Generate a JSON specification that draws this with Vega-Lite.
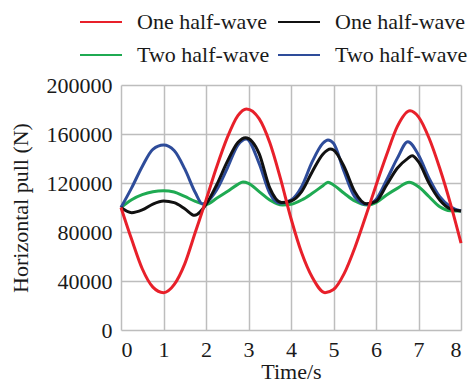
{
  "$schema": "https://vega.github.io/schema/vega-lite/v6.json",
  "width": 340,
  "height": 245,
  "autosize": {"type": "none"},
  "padding": {"left": 121, "top": 85, "right": 9, "bottom": 52},
  "background": "white",
  "config": {
    "view": {"stroke": null},
    "font": "Liberation Serif",
    "axis": {
      "labelFont": "Liberation Serif",
      "titleFont": "Liberation Serif",
      "labelFontSize": 22,
      "titleFontSize": 22,
      "titleFontWeight": "normal",
      "labelColor": "#1a1a1a",
      "titleColor": "#1a1a1a",
      "ticks": false,
      "domain": false,
      "grid": true,
      "gridColor": "#bdbdbd",
      "gridWidth": 1.5,
      "gridOpacity": 1
    }
  },
  "data": {
    "values": [
      {"t": 0, "F": 100000, "series": "Two half-wave (1)"},
      {"t": 0.25, "F": 106400, "series": "Two half-wave (1)"},
      {"t": 0.5, "F": 110500, "series": "Two half-wave (1)"},
      {"t": 0.75, "F": 112900, "series": "Two half-wave (1)"},
      {"t": 1.0, "F": 113700, "series": "Two half-wave (1)"},
      {"t": 1.25, "F": 112600, "series": "Two half-wave (1)"},
      {"t": 1.5, "F": 109000, "series": "Two half-wave (1)"},
      {"t": 1.75, "F": 105000, "series": "Two half-wave (1)"},
      {"t": 2.0, "F": 102500, "series": "Two half-wave (1)"},
      {"t": 2.25, "F": 107500, "series": "Two half-wave (1)"},
      {"t": 2.5, "F": 113000, "series": "Two half-wave (1)"},
      {"t": 2.75, "F": 118900, "series": "Two half-wave (1)"},
      {"t": 2.87, "F": 120800, "series": "Two half-wave (1)"},
      {"t": 3.0, "F": 119700, "series": "Two half-wave (1)"},
      {"t": 3.25, "F": 113000, "series": "Two half-wave (1)"},
      {"t": 3.5, "F": 106100, "series": "Two half-wave (1)"},
      {"t": 3.8, "F": 102000, "series": "Two half-wave (1)"},
      {"t": 4.0, "F": 102600, "series": "Two half-wave (1)"},
      {"t": 4.25, "F": 106100, "series": "Two half-wave (1)"},
      {"t": 4.5, "F": 111600, "series": "Two half-wave (1)"},
      {"t": 4.75, "F": 117800, "series": "Two half-wave (1)"},
      {"t": 4.87, "F": 120700, "series": "Two half-wave (1)"},
      {"t": 5.0, "F": 118400, "series": "Two half-wave (1)"},
      {"t": 5.25, "F": 111600, "series": "Two half-wave (1)"},
      {"t": 5.5, "F": 105300, "series": "Two half-wave (1)"},
      {"t": 5.8, "F": 102000, "series": "Two half-wave (1)"},
      {"t": 6.0, "F": 104000, "series": "Two half-wave (1)"},
      {"t": 6.25, "F": 110200, "series": "Two half-wave (1)"},
      {"t": 6.5, "F": 115600, "series": "Two half-wave (1)"},
      {"t": 6.78, "F": 120600, "series": "Two half-wave (1)"},
      {"t": 7.0, "F": 117000, "series": "Two half-wave (1)"},
      {"t": 7.25, "F": 108800, "series": "Two half-wave (1)"},
      {"t": 7.5, "F": 100700, "series": "Two half-wave (1)"},
      {"t": 7.75, "F": 97400, "series": "Two half-wave (1)"},
      {"t": 8.0, "F": 97100, "series": "Two half-wave (1)"},

      {"t": 0, "F": 100000, "series": "Two half-wave (2)"},
      {"t": 0.25, "F": 116000, "series": "Two half-wave (2)"},
      {"t": 0.5, "F": 133500, "series": "Two half-wave (2)"},
      {"t": 0.75, "F": 147500, "series": "Two half-wave (2)"},
      {"t": 1.0, "F": 151000, "series": "Two half-wave (2)"},
      {"t": 1.25, "F": 146500, "series": "Two half-wave (2)"},
      {"t": 1.5, "F": 131500, "series": "Two half-wave (2)"},
      {"t": 1.75, "F": 112000, "series": "Two half-wave (2)"},
      {"t": 1.92, "F": 102800, "series": "Two half-wave (2)"},
      {"t": 2.0, "F": 104000, "series": "Two half-wave (2)"},
      {"t": 2.25, "F": 114300, "series": "Two half-wave (2)"},
      {"t": 2.5, "F": 132000, "series": "Two half-wave (2)"},
      {"t": 2.75, "F": 151000, "series": "Two half-wave (2)"},
      {"t": 2.95, "F": 156000, "series": "Two half-wave (2)"},
      {"t": 3.25, "F": 136000, "series": "Two half-wave (2)"},
      {"t": 3.5, "F": 111600, "series": "Two half-wave (2)"},
      {"t": 3.75, "F": 103400, "series": "Two half-wave (2)"},
      {"t": 4.0, "F": 106000, "series": "Two half-wave (2)"},
      {"t": 4.25, "F": 117000, "series": "Two half-wave (2)"},
      {"t": 4.5, "F": 137400, "series": "Two half-wave (2)"},
      {"t": 4.75, "F": 152400, "series": "Two half-wave (2)"},
      {"t": 4.87, "F": 155100, "series": "Two half-wave (2)"},
      {"t": 5.0, "F": 152400, "series": "Two half-wave (2)"},
      {"t": 5.25, "F": 129200, "series": "Two half-wave (2)"},
      {"t": 5.5, "F": 108800, "series": "Two half-wave (2)"},
      {"t": 5.78, "F": 102600, "series": "Two half-wave (2)"},
      {"t": 6.0, "F": 106500, "series": "Two half-wave (2)"},
      {"t": 6.25, "F": 122400, "series": "Two half-wave (2)"},
      {"t": 6.5, "F": 140100, "series": "Two half-wave (2)"},
      {"t": 6.75, "F": 153700, "series": "Two half-wave (2)"},
      {"t": 7.0, "F": 142900, "series": "Two half-wave (2)"},
      {"t": 7.25, "F": 123800, "series": "Two half-wave (2)"},
      {"t": 7.5, "F": 108800, "series": "Two half-wave (2)"},
      {"t": 7.75, "F": 100700, "series": "Two half-wave (2)"},
      {"t": 8.0, "F": 97100, "series": "Two half-wave (2)"},

      {"t": 0, "F": 100000, "series": "One half-wave (2)"},
      {"t": 0.25, "F": 95800, "series": "One half-wave (2)"},
      {"t": 0.5, "F": 98000, "series": "One half-wave (2)"},
      {"t": 0.75, "F": 102800, "series": "One half-wave (2)"},
      {"t": 1.0, "F": 105300, "series": "One half-wave (2)"},
      {"t": 1.25, "F": 104000, "series": "One half-wave (2)"},
      {"t": 1.5, "F": 99000, "series": "One half-wave (2)"},
      {"t": 1.73, "F": 93600, "series": "One half-wave (2)"},
      {"t": 2.0, "F": 102500, "series": "One half-wave (2)"},
      {"t": 2.25, "F": 118400, "series": "One half-wave (2)"},
      {"t": 2.5, "F": 137400, "series": "One half-wave (2)"},
      {"t": 2.75, "F": 153000, "series": "One half-wave (2)"},
      {"t": 2.93, "F": 157000, "series": "One half-wave (2)"},
      {"t": 3.25, "F": 144000, "series": "One half-wave (2)"},
      {"t": 3.5, "F": 116000, "series": "One half-wave (2)"},
      {"t": 3.78, "F": 104000, "series": "One half-wave (2)"},
      {"t": 4.0, "F": 105300, "series": "One half-wave (2)"},
      {"t": 4.25, "F": 113000, "series": "One half-wave (2)"},
      {"t": 4.5, "F": 129200, "series": "One half-wave (2)"},
      {"t": 4.75, "F": 143500, "series": "One half-wave (2)"},
      {"t": 4.93, "F": 147700, "series": "One half-wave (2)"},
      {"t": 5.0, "F": 146900, "series": "One half-wave (2)"},
      {"t": 5.25, "F": 133300, "series": "One half-wave (2)"},
      {"t": 5.5, "F": 112900, "series": "One half-wave (2)"},
      {"t": 5.78, "F": 103000, "series": "One half-wave (2)"},
      {"t": 6.0, "F": 105000, "series": "One half-wave (2)"},
      {"t": 6.25, "F": 118400, "series": "One half-wave (2)"},
      {"t": 6.5, "F": 132000, "series": "One half-wave (2)"},
      {"t": 6.75, "F": 140100, "series": "One half-wave (2)"},
      {"t": 6.85, "F": 142300, "series": "One half-wave (2)"},
      {"t": 7.0, "F": 137400, "series": "One half-wave (2)"},
      {"t": 7.25, "F": 119700, "series": "One half-wave (2)"},
      {"t": 7.5, "F": 106100, "series": "One half-wave (2)"},
      {"t": 7.75, "F": 98800, "series": "One half-wave (2)"},
      {"t": 8.0, "F": 97100, "series": "One half-wave (2)"},

      {"t": 0, "F": 100000, "series": "One half-wave (1)"},
      {"t": 0.25, "F": 74000, "series": "One half-wave (1)"},
      {"t": 0.5, "F": 50000, "series": "One half-wave (1)"},
      {"t": 0.75, "F": 35000, "series": "One half-wave (1)"},
      {"t": 1.0, "F": 30500, "series": "One half-wave (1)"},
      {"t": 1.25, "F": 37000, "series": "One half-wave (1)"},
      {"t": 1.5, "F": 54000, "series": "One half-wave (1)"},
      {"t": 1.75, "F": 80000, "series": "One half-wave (1)"},
      {"t": 2.0, "F": 106000, "series": "One half-wave (1)"},
      {"t": 2.25, "F": 133000, "series": "One half-wave (1)"},
      {"t": 2.5, "F": 157000, "series": "One half-wave (1)"},
      {"t": 2.75, "F": 175000, "series": "One half-wave (1)"},
      {"t": 2.95, "F": 180500, "series": "One half-wave (1)"},
      {"t": 3.25, "F": 172500, "series": "One half-wave (1)"},
      {"t": 3.5, "F": 153000, "series": "One half-wave (1)"},
      {"t": 3.75, "F": 124000, "series": "One half-wave (1)"},
      {"t": 4.0, "F": 91000, "series": "One half-wave (1)"},
      {"t": 4.25, "F": 63000, "series": "One half-wave (1)"},
      {"t": 4.5, "F": 43000, "series": "One half-wave (1)"},
      {"t": 4.8, "F": 30500, "series": "One half-wave (1)"},
      {"t": 5.0, "F": 33000, "series": "One half-wave (1)"},
      {"t": 5.25, "F": 46000, "series": "One half-wave (1)"},
      {"t": 5.5, "F": 67000, "series": "One half-wave (1)"},
      {"t": 5.75, "F": 92000, "series": "One half-wave (1)"},
      {"t": 6.0, "F": 118000, "series": "One half-wave (1)"},
      {"t": 6.25, "F": 143000, "series": "One half-wave (1)"},
      {"t": 6.5, "F": 166000, "series": "One half-wave (1)"},
      {"t": 6.8, "F": 179000, "series": "One half-wave (1)"},
      {"t": 7.0, "F": 174000, "series": "One half-wave (1)"},
      {"t": 7.25, "F": 156500, "series": "One half-wave (1)"},
      {"t": 7.5, "F": 132000, "series": "One half-wave (1)"},
      {"t": 7.75, "F": 103400, "series": "One half-wave (1)"},
      {"t": 8.0, "F": 71000, "series": "One half-wave (1)"}
    ]
  },
  "mark": {"type": "line", "interpolate": "monotone", "strokeWidth": 3},
  "encoding": {
    "x": {
      "field": "t",
      "type": "quantitative",
      "scale": {"domain": [0, 8], "nice": false},
      "axis": {
        "title": "Time/s",
        "values": [0, 1, 2, 3, 4, 5, 6, 7, 8],
        "format": "d",
        "labelFlush": true,
        "labelPadding": 9,
        "titlePadding": 1
      }
    },
    "y": {
      "field": "F",
      "type": "quantitative",
      "scale": {"domain": [0, 200000], "nice": false},
      "axis": {
        "title": "Horizontal pull (N)",
        "values": [0, 40000, 80000, 120000, 160000, 200000],
        "format": "d",
        "labelPadding": 9,
        "titlePadding": 14
      }
    },
    "color": {
      "field": "series",
      "type": "nominal",
      "scale": {
        "domain": ["One half-wave (1)", "Two half-wave (1)", "One half-wave (2)", "Two half-wave (2)"],
        "range": ["#e8202a", "#1faa52", "#111111", "#2e4c9a"]
      },
      "legend": {
        "orient": "none",
        "legendX": -42,
        "legendY": -85,
        "columns": 2,
        "title": null,
        "padding": 0,
        "symbolType": "stroke",
        "symbolSize": 1764,
        "symbolStrokeWidth": 2,
        "labelFont": "Liberation Serif",
        "labelFontSize": 22,
        "labelColor": "#1a1a1a",
        "labelOffset": 14,
        "labelLimit": 0,
        "columnPadding": 4,
        "rowPadding": -15,
        "labelExpr": "split(datum.label, ' (')[0]"
      }
    }
  }
}
